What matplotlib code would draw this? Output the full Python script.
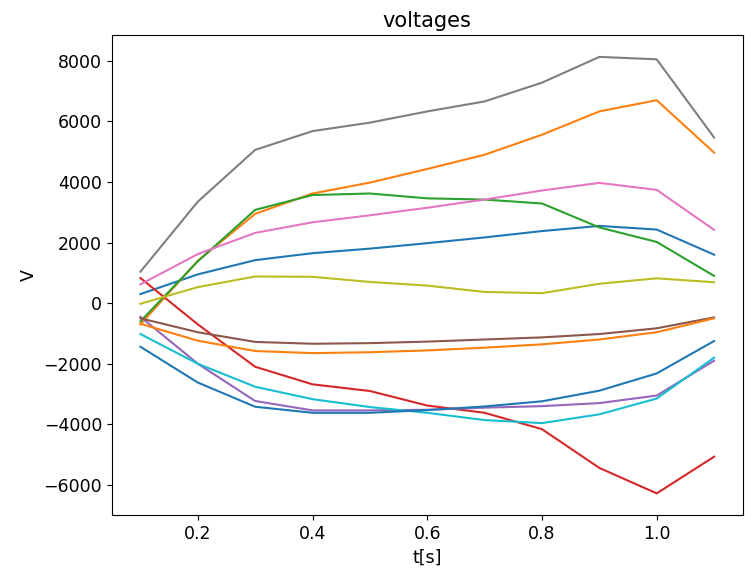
import numpy as np
import matplotlib.pyplot as plt

# ----------------------------------
# Data
# ----------------------------------

t = [0.1, 0.2, 0.3, 0.4, 0.5, 0.6, 0.7, 0.8, 0.9, 1.0, 1.1]

v0 = [300, 950, 1420, 1650, 1800, 1980, 2170, 2380, 2550, 2430, 1600]
v1 = [-700, 1400, 2950, 3620, 3980, 4430, 4900, 5560, 6330, 6700, 4970]
v2 = [-600, 1380, 3080, 3570, 3620, 3460, 3420, 3290, 2500, 2020, 900]
v3 = [830, -700, -2100, -2680, -2900, -3380, -3620, -4160, -5440, -6280, -5070]
v4 = [-450, -2000, -3230, -3540, -3540, -3520, -3450, -3400, -3300, -3050, -1900]
v5 = [-500, -960, -1280, -1340, -1320, -1270, -1200, -1130, -1020, -830, -470]
v6 = [620, 1620, 2320, 2670, 2900, 3150, 3420, 3720, 3970, 3740, 2420]
v7 = [1040, 3350, 5060, 5680, 5960, 6330, 6660, 7280, 8130, 8050, 5470]
v8 = [-20, 530, 880, 870, 700, 580, 370, 330, 640, 820, 690]
v9 = [-1020, -2000, -2760, -3170, -3430, -3620, -3860, -3960, -3670, -3150, -1800]
v10 = [-1440, -2620, -3420, -3620, -3620, -3530, -3410, -3240, -2890, -2320, -1250]
v11 = [-680, -1240, -1580, -1650, -1620, -1560, -1470, -1360, -1200, -960, -500]

series = [v0, v1, v2, v3, v4, v5, v6, v7, v8, v9, v10, v11]

# ----------------------------------
# Plot
# ----------------------------------

fig = plt.figure(figsize=(7.45, 5.75), dpi=100)
ax = fig.add_axes([0.150, 0.104, 0.847, 0.835])

for v in series:
    ax.plot(t, v)

ax.set_title('voltages', fontsize=15)
ax.set_xlabel('t[s]', fontsize=12.5)
ax.set_ylabel('V', fontsize=12.5)
ax.tick_params(labelsize=12.5)

fig.savefig('out.png', dpi=100)
